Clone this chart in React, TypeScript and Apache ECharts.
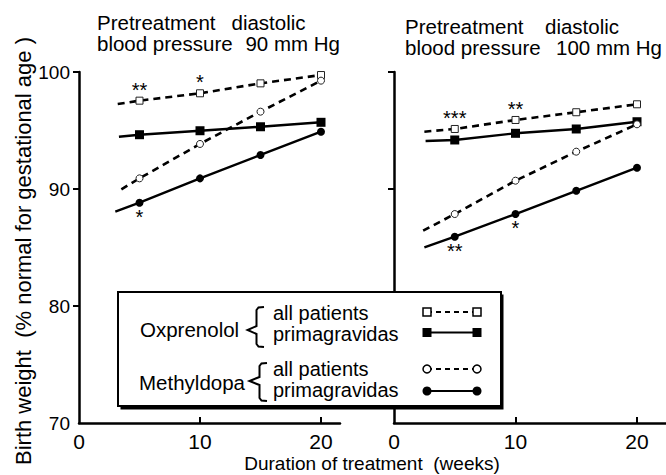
import React, { useEffect, useRef } from "react";
import * as echarts from "echarts";

// ---- data ----
const weeks = [5, 10, 15, 20];
const xTickLabels = [0, 10, 20];
const yTickValues = [70, 80, 90, 100];

// Pretreatment diastolic 90 mm Hg
const oxprenololAll90 = [97.55, 98.18, 99.03, 99.74];
const oxprenololPrim90 = [94.64, 94.98, 95.32, 95.7];
const methyldopaAll90 = [90.91, 93.85, 96.61, 99.26];
const methyldopaPrim90 = [88.83, 90.91, 92.91, 94.9];
// where each drawn line begins (week, value): oxpAll, oxpPrim, methAll, methPrim
const lineStartWeeks90 = [3.2, 3.3, 3.5, 3.0];
const lineStartValues90 = [97.26, 94.47, 89.97, 88.06];

// Pretreatment diastolic 100 mm Hg
const oxprenololAll100 = [95.13, 95.9, 96.56, 97.24];
const oxprenololPrim100 = [94.19, 94.76, 95.13, 95.75];
const methyldopaAll100 = [87.86, 90.71, 93.19, 95.53];
const methyldopaPrim100 = [85.92, 87.86, 89.85, 91.82];
const lineStartWeeks100 = [2.5, 2.6, 2.4, 2.5];
const lineStartValues100 = [94.9, 94.1, 86.44, 85.01];

// significance markers at each week
const oxprenololAllStars90 = ["**", "*", "", ""];
const methyldopaPrimStars90 = ["*", "", "", ""];
const oxprenololAllStars100 = ["***", "**", "", ""];
const methyldopaPrimStars100 = ["**", "*", "", ""];
const noStars = ["", "", "", ""];

const FONT = "Liberation Sans";
const BLACK = "#000";

type Kind = "openSquare" | "filledSquare" | "openCircle" | "filledCircle";

function symbolFor(kind: Kind) {
  switch (kind) {
    case "openSquare":
      return { symbol: "rect", symbolSize: 7, itemStyle: { color: "#fff", borderColor: "#222", borderWidth: 1 } };
    case "filledSquare":
      return { symbol: "rect", symbolSize: 9, itemStyle: { color: BLACK, borderWidth: 0 } };
    case "openCircle":
      return { symbol: "circle", symbolSize: 7, itemStyle: { color: "#fff", borderColor: "#222", borderWidth: 1 } };
    default:
      return { symbol: "circle", symbolSize: 8, itemStyle: { color: BLACK, borderWidth: 0 } };
  }
}

function makeSeries(
  name: string,
  gridIndex: number,
  startWeek: number,
  startValue: number,
  values: number[],
  stars: string[],
  starPos: "top" | "bottom",
  kind: Kind,
  dashed: boolean
) {
  const sym = symbolFor(kind);
  const data: any[] = [{ value: [startWeek, startValue], symbol: "none" }];
  weeks.forEach((w, i) => {
    const item: any = { value: [w, values[i]] };
    if (stars[i]) {
      item.label = {
        show: true,
        formatter: stars[i],
        position: starPos,
        distance: starPos === "top" ? -3 : 0,
        fontSize: 20,
        fontFamily: FONT,
        color: BLACK,
      };
    }
    data.push(item);
  });
  return {
    name,
    type: "line",
    xAxisIndex: gridIndex,
    yAxisIndex: gridIndex,
    data,
    showAllSymbol: true,
    symbol: sym.symbol,
    symbolSize: sym.symbolSize,
    itemStyle: sym.itemStyle,
    lineStyle: { color: BLACK, width: dashed ? 2.6 : 2.4, type: dashed ? [7, 5] : "solid" },
    label: { show: false },
    emphasis: { disabled: true },
    z: 3,
  };
}

function xAxisFor(gridIndex: number, max: number) {
  return {
    gridIndex,
    type: "value",
    min: 0,
    max,
    interval: 10,
    axisLine: { show: true, onZero: false, lineStyle: { color: BLACK, width: 2.5 } },
    axisTick: { show: true, inside: true, length: 6, customValues: [10, 20], lineStyle: { color: BLACK, width: 2 } },
    axisLabel: { customValues: xTickLabels, fontSize: 21, fontFamily: FONT, color: BLACK, margin: 8 },
    splitLine: { show: false },
  };
}

function yAxisFor(gridIndex: number, showLabels: boolean) {
  return {
    gridIndex,
    type: "value",
    min: 70,
    max: 100,
    interval: 10,
    axisLine: { show: true, onZero: false, lineStyle: { color: BLACK, width: 2.5 } },
    axisTick: { show: true, inside: false, length: 6, customValues: [80, 90, 100], lineStyle: { color: BLACK, width: 2 } },
    axisLabel: { show: showLabels, customValues: yTickValues, fontSize: 19, fontFamily: FONT, color: BLACK, margin: 9 },
    splitLine: { show: false },
  };
}

function text(x: number, y: number, t: string, size: number, align = "left", extra: any = {}) {
  return {
    type: "text",
    x,
    y,
    z: 110,
    ...extra,
    style: { text: t, fontSize: size, fontFamily: FONT, fill: BLACK, align, verticalAlign: "middle" },
  };
}

function legendSymbols(y: number, kind: Kind, dashed: boolean) {
  const x1 = 427;
  const x2 = 477;
  const els: any[] = [
    {
      type: "line",
      z: 110,
      shape: { x1, y1: y, x2, y2: y },
      style: { stroke: BLACK, lineWidth: 2, lineDash: dashed ? [5, 4] : null },
    },
  ];
  [x1, x2].forEach((x) => {
    if (kind === "openSquare")
      els.push({ type: "rect", z: 111, shape: { x: x - 4, y: y - 4, width: 8, height: 8 }, style: { fill: "#fff", stroke: BLACK, lineWidth: 1.5 } });
    else if (kind === "filledSquare")
      els.push({ type: "rect", z: 111, shape: { x: x - 4.5, y: y - 4.5, width: 9, height: 9 }, style: { fill: BLACK } });
    else if (kind === "openCircle")
      els.push({ type: "circle", z: 111, shape: { cx: x, cy: y, r: 4 }, style: { fill: "#fff", stroke: BLACK, lineWidth: 1.5 } });
    else els.push({ type: "circle", z: 111, shape: { cx: x, cy: y, r: 4.5 }, style: { fill: BLACK } });
  });
  return els;
}

function brace(pointX: number, vertX: number, endX: number, top: number, mid: number, bottom: number) {
  return {
    type: "polyline",
    z: 110,
    shape: {
      points: [
        [endX, top],
        [vertX + 2, top + 0.5],
        [vertX, top + 3],
        [vertX, mid - 4],
        [pointX, mid],
        [vertX, mid + 4],
        [vertX, bottom - 3],
        [vertX + 2, bottom - 0.5],
        [endX, bottom],
      ],
    },
    style: { stroke: BLACK, lineWidth: 2, fill: null },
  };
}

export default function App() {
  const ref = useRef<HTMLDivElement>(null);

  useEffect(() => {
    if (!ref.current) return;
    const chart = echarts.init(ref.current, null, { renderer: "svg" });

    const series = [
      makeSeries("Oxprenolol all patients 90", 0, lineStartWeeks90[0], lineStartValues90[0], oxprenololAll90, oxprenololAllStars90, "top", "openSquare", true),
      makeSeries("Oxprenolol primagravidas 90", 0, lineStartWeeks90[1], lineStartValues90[1], oxprenololPrim90, noStars, "top", "filledSquare", false),
      makeSeries("Methyldopa all patients 90", 0, lineStartWeeks90[2], lineStartValues90[2], methyldopaAll90, noStars, "top", "openCircle", true),
      makeSeries("Methyldopa primagravidas 90", 0, lineStartWeeks90[3], lineStartValues90[3], methyldopaPrim90, methyldopaPrimStars90, "bottom", "filledCircle", false),
      makeSeries("Oxprenolol all patients 100", 1, lineStartWeeks100[0], lineStartValues100[0], oxprenololAll100, oxprenololAllStars100, "top", "openSquare", true),
      makeSeries("Oxprenolol primagravidas 100", 1, lineStartWeeks100[1], lineStartValues100[1], oxprenololPrim100, noStars, "top", "filledSquare", false),
      makeSeries("Methyldopa all patients 100", 1, lineStartWeeks100[2], lineStartValues100[2], methyldopaAll100, noStars, "top", "openCircle", true),
      makeSeries("Methyldopa primagravidas 100", 1, lineStartWeeks100[3], lineStartValues100[3], methyldopaPrim100, methyldopaPrimStars100, "bottom", "filledCircle", false),
    ];

    const graphics: any[] = [
      // titles
      text(97, 22, "Pretreatment", 20.5),
      text(231.5, 22, "diastolic", 20.5),
      text(97, 43.5, "blood pressure", 20.5),
      text(340, 43.5, "90 mm Hg", 20.5, "right"),
      text(405, 26, "Pretreatment", 20.5),
      text(545, 26, "diastolic", 20.5),
      text(405, 47.5, "blood pressure", 20.5),
      text(662, 47.5, "100 mm Hg", 20.5, "right"),
      // axis titles
      text(372, 463, "Duration of treatment  (weeks)", 19, "center"),
      text(23, 251, "Birth weight  (% normal for gestational age )", 22, "center", { rotation: Math.PI / 2 }),
      // legend box (shadow + box)
      { type: "rect", z: 100, shape: { x: 120.5, y: 294.5, width: 383, height: 115 }, style: { fill: BLACK } },
      { type: "rect", z: 101, shape: { x: 118, y: 292, width: 383, height: 114 }, style: { fill: "#fff", stroke: BLACK, lineWidth: 2 } },
      text(140, 329, "Oxprenolol", 20.5),
      text(273, 313, "all patients", 20),
      text(273, 333.5, "primagravidas", 20),
      text(139, 382.5, "Methyldopa", 20.5),
      text(273, 369, "all patients", 20),
      text(273, 390, "primagravidas", 20),
      brace(247.5, 256.5, 264, 307, 330, 347),
      brace(249.5, 259.5, 267, 363, 381, 401),
      ...legendSymbols(312, "openSquare", true),
      ...legendSymbols(332.5, "filledSquare", false),
      ...legendSymbols(369, "openCircle", true),
      ...legendSymbols(391, "filledCircle", false),
    ];

    chart.setOption({
      animation: false,
      backgroundColor: "#fff",
      textStyle: { fontFamily: FONT },
      grid: [
        { left: 79, top: 72, width: 261, height: 351 },
        { left: 394, top: 72, width: 272, height: 351 },
      ],
      xAxis: [xAxisFor(0, 261 / 12.1), xAxisFor(1, 272 / 12.15)],
      yAxis: [yAxisFor(0, true), yAxisFor(1, false)],
      series,
      graphic: { elements: graphics },
    });

    return () => chart.dispose();
  }, []);

  return (
    <div
      ref={ref}
      style={{ position: "absolute", left: 0, top: 0, width: 666, height: 475, background: "#fff" }}
    />
  );
}
